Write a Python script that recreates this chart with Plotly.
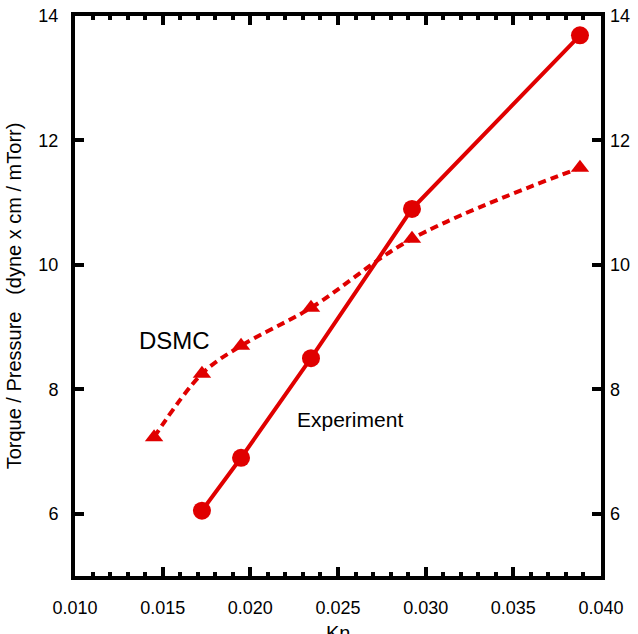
import plotly.graph_objects as go

# Data
exp_kn = [0.01724, 0.01947, 0.02346, 0.02922, 0.03880]
exp_val = [6.05, 6.90, 8.50, 10.90, 13.69]
dsmc_kn = [0.01451, 0.01724, 0.01947, 0.02346, 0.02922, 0.03880]
dsmc_val = [7.23, 8.25, 8.70, 9.31, 10.42, 11.56]

RED = "#E00000"
FONT = "Liberation Sans, Arial, sans-serif"

fig = go.Figure()
fig.add_trace(go.Scatter(
    x=dsmc_kn, y=dsmc_val, mode="lines+markers",
    line=dict(color=RED, width=4, dash="8px,5px", shape="spline", smoothing=1.0),
    marker=dict(symbol="triangle-up", size=16, color=RED),
    showlegend=False, name="DSMC"))
fig.add_trace(go.Scatter(
    x=exp_kn, y=exp_val, mode="lines+markers",
    line=dict(color=RED, width=4),
    marker=dict(symbol="circle", size=18, color=RED),
    showlegend=False, name="Experiment"))
# invisible trace to anchor right axis
fig.add_trace(go.Scatter(x=[None], y=[None], yaxis="y2", showlegend=False, hoverinfo="skip"))

fig.add_annotation(x=0.01570, y=8.78, text="DSMC", showarrow=False,
                   font=dict(family=FONT, size=24, color="black"))
fig.add_annotation(x=0.02568, y=7.51, text="Experiment", showarrow=False,
                   font=dict(family=FONT, size=21, color="black"))
# x-axis title (partly cut by the bottom edge, as in the reference)
fig.add_annotation(x=0.5, xref="paper", y=0, yref="paper", yanchor="top",
                   yshift=-44, text="Kn", showarrow=False,
                   font=dict(family=FONT, size=20, color="black"))

axis_common = dict(showline=True, linewidth=4, linecolor="black",
                   ticks="inside", tickwidth=4, tickcolor="black",
                   showgrid=False, zeroline=False, automargin=False,
                   tickfont=dict(family=FONT, size=18, color="black"))

fig.update_layout(
    width=638, height=634,
    margin=dict(l=75, r=37, t=16, b=58),
    paper_bgcolor="white", plot_bgcolor="white",
    xaxis=dict(range=[0.010, 0.040], dtick=0.005, tick0=0.010, tickformat=".3f",
               ticklen=9, mirror="ticks", ticklabelstandoff=12,
               minor=dict(dtick=0.001, ticks="inside", ticklen=4, tickwidth=4, tickcolor="black"),
               **axis_common),
    yaxis=dict(range=[5, 14], dtick=2, tick0=0, ticklen=9, mirror="ticks",
               ticklabelstandoff=9,
               title=dict(text="Torque / Pressure   (dyne x cm / mTorr)",
                          font=dict(family=FONT, size=20, color="black"), standoff=12),
               **axis_common),
    yaxis2=dict(range=[5, 14], dtick=2, tick0=0, overlaying="y", side="right",
                ticks="", showline=False, showgrid=False, zeroline=False,
                ticklabelstandoff=8, automargin=False,
                tickfont=dict(family=FONT, size=18, color="black")),
)

fig.write_html("out.html")
